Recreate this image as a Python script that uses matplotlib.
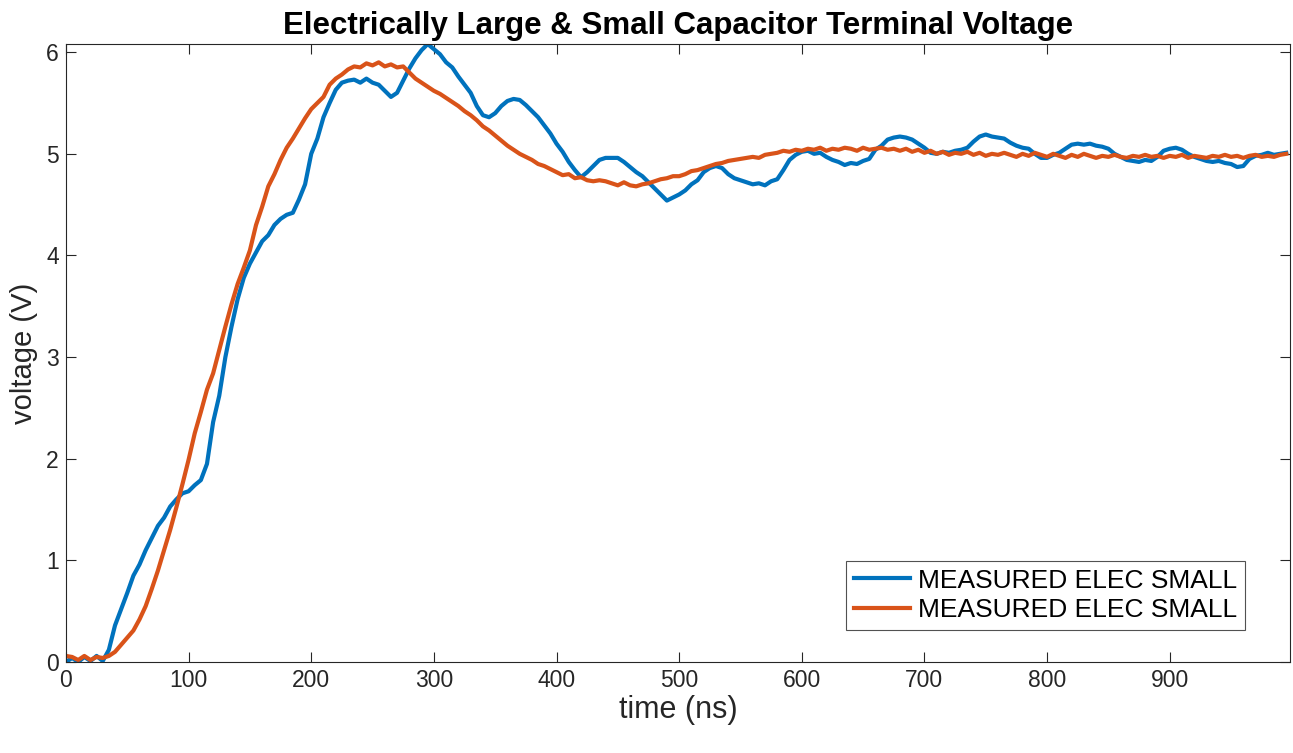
import numpy as np
import matplotlib
matplotlib.use('Agg')
import matplotlib.pyplot as plt

plt.rcParams['font.family'] = ['Liberation Sans', 'DejaVu Sans']

# sample times (ns), one reading every 5 ns
t = np.arange(0, 1000, 5)

v_blue = [
    0.00, 0.04, 0.00, 0.05, 0.01, 0.06, 0.01, 0.12, 0.36, 0.52,
    0.68, 0.85, 0.96, 1.10, 1.22, 1.34, 1.42, 1.53, 1.60, 1.66,
    1.68, 1.74, 1.79, 1.95, 2.36, 2.62, 3.00, 3.30, 3.57, 3.78,
    3.92, 4.03, 4.14, 4.20, 4.30, 4.36, 4.40, 4.42, 4.55, 4.70,
    5.00, 5.15, 5.36, 5.50, 5.63, 5.70, 5.72, 5.73, 5.70, 5.74,
    5.70, 5.68, 5.62, 5.56, 5.60, 5.72, 5.84, 5.94, 6.02, 6.08,
    6.03, 5.98, 5.90, 5.85, 5.76, 5.68, 5.60, 5.47, 5.38, 5.36,
    5.40, 5.47, 5.52, 5.54, 5.53, 5.48, 5.42, 5.36, 5.28, 5.20,
    5.10, 5.02, 4.92, 4.84, 4.77, 4.82, 4.88, 4.94, 4.96, 4.96,
    4.96, 4.92, 4.87, 4.82, 4.78, 4.72, 4.66, 4.60, 4.54, 4.57,
    4.60, 4.64, 4.70, 4.74, 4.82, 4.86, 4.88, 4.86, 4.80, 4.76,
    4.74, 4.72, 4.70, 4.71, 4.69, 4.73, 4.75, 4.84, 4.94, 4.99,
    5.02, 5.03, 5.00, 5.01, 4.97, 4.94, 4.92, 4.89, 4.91, 4.90,
    4.93, 4.95, 5.04, 5.08, 5.14, 5.16, 5.17, 5.16, 5.14, 5.10,
    5.06, 5.01, 5.00, 5.02, 5.01, 5.03, 5.04, 5.06, 5.12, 5.17,
    5.19, 5.17, 5.16, 5.15, 5.11, 5.08, 5.06, 5.05, 5.00, 4.96,
    4.96, 4.99, 5.01, 5.05, 5.09, 5.10, 5.09, 5.10, 5.08, 5.07,
    5.05, 5.00, 4.97, 4.94, 4.93, 4.92, 4.94, 4.93, 4.97, 5.03,
    5.05, 5.06, 5.04, 5.00, 4.97, 4.95, 4.93, 4.92, 4.93, 4.91,
    4.90, 4.87, 4.88, 4.95, 4.98, 4.99, 5.01, 4.99, 5.00, 5.01,
]

v_orange = [
    0.06, 0.05, 0.02, 0.06, 0.02, 0.05, 0.04, 0.06, 0.10, 0.17,
    0.24, 0.31, 0.42, 0.55, 0.72, 0.90, 1.10, 1.30, 1.52, 1.75,
    1.99, 2.25, 2.46, 2.68, 2.84, 3.07, 3.30, 3.52, 3.72, 3.88,
    4.05, 4.30, 4.48, 4.68, 4.80, 4.94, 5.06, 5.15, 5.25, 5.35,
    5.44, 5.50, 5.56, 5.68, 5.74, 5.78, 5.83, 5.86, 5.85, 5.89,
    5.87, 5.90, 5.86, 5.88, 5.85, 5.86, 5.80, 5.74, 5.70, 5.66,
    5.62, 5.59, 5.55, 5.51, 5.47, 5.42, 5.38, 5.33, 5.27, 5.23,
    5.18, 5.13, 5.08, 5.04, 5.00, 4.97, 4.94, 4.90, 4.88, 4.85,
    4.82, 4.79, 4.80, 4.76, 4.77, 4.74, 4.73, 4.74, 4.73, 4.71,
    4.69, 4.72, 4.69, 4.68, 4.70, 4.71, 4.73, 4.75, 4.76, 4.78,
    4.78, 4.80, 4.83, 4.84, 4.86, 4.88, 4.90, 4.91, 4.93, 4.94,
    4.95, 4.96, 4.97, 4.96, 4.99, 5.00, 5.01, 5.03, 5.02, 5.04,
    5.03, 5.05, 5.04, 5.06, 5.03, 5.05, 5.04, 5.06, 5.05, 5.03,
    5.06, 5.04, 5.05, 5.06, 5.04, 5.05, 5.03, 5.05, 5.02, 5.04,
    5.01, 5.03, 5.00, 5.02, 4.99, 5.01, 5.00, 5.02, 4.99, 5.01,
    4.98, 5.00, 4.99, 5.01, 4.99, 4.97, 5.00, 4.98, 5.01, 4.99,
    4.97, 5.00, 4.98, 4.96, 4.99, 4.97, 5.00, 4.98, 4.96, 4.98,
    4.97, 4.99, 4.97, 4.96, 4.98, 4.97, 4.99, 4.97, 4.98, 4.96,
    4.98, 4.97, 4.99, 4.96, 4.98, 4.97, 4.96, 4.98, 4.97, 4.99,
    4.97, 4.98, 4.96, 4.98, 4.99, 4.97, 4.98, 4.97, 4.99, 5.00,
]

labels = ['MEASURED ELEC SMALL', 'MEASURED ELEC SMALL']
colors = ['#0072BD', '#D95319']
axcol = '#262626'

fig = plt.figure(figsize=(12.93, 7.53), dpi=100)
ax = fig.add_axes([0.0510, 0.1208, 0.9466, 0.8207])

ax.plot(t, v_blue, color=colors[0], lw=3, label=labels[0])
ax.plot(t, v_orange, color=colors[1], lw=3, label=labels[1])

ax.set_xlim(0, 998)
ax.set_ylim(0, 6.08)
ax.set_xticks(np.arange(0, 1000, 100))
ax.set_yticks(np.arange(0, 7, 1))
ax.tick_params(direction='in', top=True, right=True, length=7, width=0.8,
               labelsize=16.5, colors=axcol, pad=5)
for s in ax.spines.values():
    s.set_color(axcol)
    s.set_linewidth(0.8)

ax.set_xlabel('time (ns)', fontsize=22, color=axcol, labelpad=2)
ax.set_ylabel('voltage (V)', fontsize=21, color=axcol, labelpad=6)
ax.set_title('Electrically Large & Small Capacitor Terminal Voltage',
             fontsize=22.5, fontweight='bold', pad=7)

leg = ax.legend(loc='lower right', bbox_to_anchor=(0.963, 0.052),
                fontsize=19, fancybox=False, edgecolor=axcol,
                handlelength=2.1, borderpad=0.3, labelspacing=0.2,
                handletextpad=0.3, borderaxespad=0)
leg.get_frame().set_linewidth(0.8)

fig.savefig('out.png', dpi=100)
